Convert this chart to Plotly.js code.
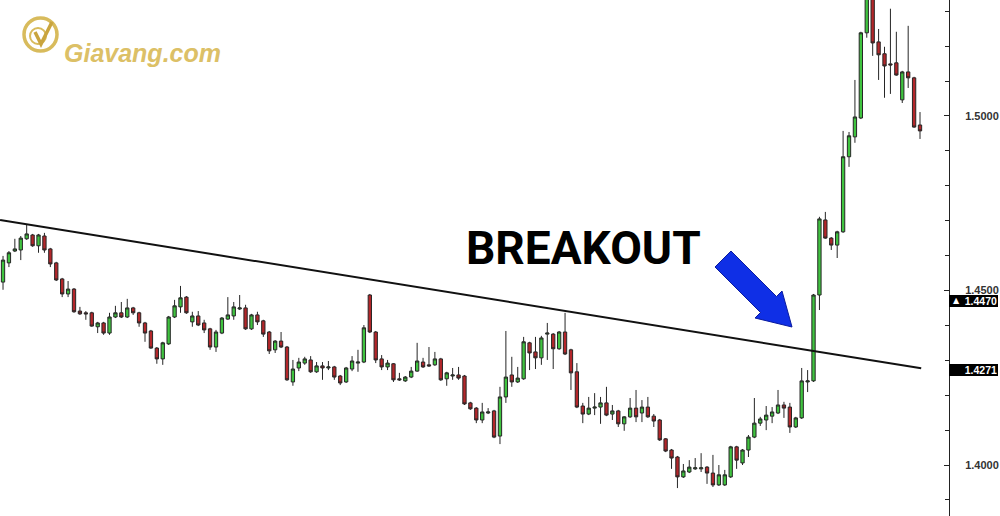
<!DOCTYPE html>
<html><head><meta charset="utf-8">
<script src="https://cdn.plot.ly/plotly-3.0.1.min.js"></script>
<style>html,body{margin:0;padding:0;background:#fff;}#chart{width:1000px;height:516px;}</style>
</head><body><div id="chart"></div>
<script>
const openP = [
1.4524,1.4579,1.4613,1.4616,1.4648,1.4659,1.4628,1.4656,1.4619,1.4579,
1.4533,1.4490,1.4504,1.4441,1.4436,1.4436,1.4396,1.4407,1.4378,1.4424,
1.4436,1.4424,1.4450,1.4436,1.4407,1.4384,1.4335,1.4304,1.4347,1.4424,
1.4453,1.4481,1.4410,1.4427,1.4407,1.4390,1.4338,1.4378,1.4418,1.4427,
1.4447,1.4450,1.4390,1.4430,1.4413,1.4381,1.4330,1.4355,1.4338,1.4238,
1.4278,1.4292,1.4301,1.4267,1.4284,1.4278,1.4281,1.4255,1.4238,1.4275,
1.4292,1.4295,1.4487,1.4381,1.4304,1.4281,1.4290,1.4247,1.4241,1.4252,
1.4269,1.4295,1.4287,1.4287,1.4304,1.4247,1.4255,1.4258,1.4255,1.4178,
1.4163,1.4129,1.4149,1.4155,1.4083,1.4195,1.4258,1.4238,1.4247,1.4350,
1.4324,1.4307,1.4375,1.4375,1.4333,1.4381,1.4330,1.4267,1.4169,1.4146,
1.4163,1.4166,1.4178,1.4146,1.4155,1.4118,1.4138,1.4163,1.4149,1.4166,
1.4140,1.4129,1.4075,1.4043,1.4023,1.3966,1.3980,1.3989,1.3989,1.3994,
1.3977,1.3943,1.3943,1.3966,1.4052,1.4006,1.4043,1.4080,1.4120,1.4129,
1.4140,1.4149,1.4172,1.4166,1.4109,1.4135,1.4238,1.4241,1.4487,1.4702,
1.4650,1.4630,1.4668,1.4883,1.4940,1.4994,1.5238,1.5347,1.5212,1.5178,
1.5149,1.5152,1.5046,1.5126,1.5109,1.4974];
const highP = [
1.4599,1.4613,1.4648,1.4656,1.4688,1.4662,1.4662,1.4665,1.4622,1.4582,
1.4536,1.4527,1.4507,1.4453,1.4441,1.4439,1.4410,1.4410,1.4436,1.4456,
1.4467,1.4476,1.4453,1.4439,1.4410,1.4387,1.4338,1.4353,1.4427,1.4473,
1.4513,1.4484,1.4439,1.4441,1.4416,1.4393,1.4387,1.4424,1.4481,1.4467,
1.4487,1.4459,1.4433,1.4439,1.4416,1.4384,1.4358,1.4381,1.4341,1.4301,
1.4307,1.4310,1.4312,1.4295,1.4295,1.4298,1.4284,1.4258,1.4281,1.4312,
1.4330,1.4401,1.4490,1.4384,1.4315,1.4301,1.4292,1.4264,1.4255,1.4281,
1.4350,1.4307,1.4338,1.4324,1.4307,1.4267,1.4278,1.4281,1.4258,1.4181,
1.4166,1.4178,1.4163,1.4158,1.4224,1.4384,1.4310,1.4281,1.4367,1.4353,
1.4367,1.4370,1.4407,1.4378,1.4384,1.4436,1.4333,1.4292,1.4178,1.4195,
1.4206,1.4195,1.4224,1.4172,1.4158,1.4140,1.4192,1.4215,1.4186,1.4195,
1.4146,1.4132,1.4077,1.4046,1.4026,1.4003,1.4014,1.4020,1.4034,1.3997,
1.4029,1.4000,1.3986,1.4055,1.4055,1.4046,1.4086,1.4192,1.4138,1.4169,
1.4166,1.4215,1.4181,1.4178,1.4138,1.4278,1.4272,1.4490,1.4711,1.4725,
1.4653,1.4671,1.4957,1.4954,1.5103,1.5241,1.5355,1.5355,1.5249,1.5198,
1.5307,1.5241,1.5129,1.5258,1.5112,1.5011];
const lowP = [
1.4502,1.4567,1.4610,1.4587,1.4645,1.4625,1.4608,1.4608,1.4567,1.4527,
1.4481,1.4481,1.4436,1.4430,1.4416,1.4396,1.4378,1.4373,1.4373,1.4421,
1.4421,1.4421,1.4430,1.4396,1.4353,1.4333,1.4290,1.4287,1.4344,1.4421,
1.4436,1.4433,1.4396,1.4398,1.4378,1.4330,1.4324,1.4375,1.4416,1.4416,
1.4444,1.4387,1.4387,1.4401,1.4367,1.4318,1.4321,1.4335,1.4241,1.4227,
1.4269,1.4287,1.4264,1.4264,1.4244,1.4272,1.4244,1.4229,1.4235,1.4269,
1.4267,1.4292,1.4378,1.4292,1.4272,1.4272,1.4238,1.4241,1.4238,1.4249,
1.4267,1.4278,1.4281,1.4284,1.4241,1.4227,1.4244,1.4244,1.4172,1.4158,
1.4120,1.4120,1.4146,1.4077,1.4060,1.4178,1.4224,1.4235,1.4244,1.4272,
1.4275,1.4287,1.4301,1.4275,1.4330,1.4315,1.4215,1.4163,1.4120,1.4143,
1.4143,1.4118,1.4140,1.4129,1.4109,1.4098,1.4135,1.4123,1.4123,1.4135,
1.4109,1.4069,1.4037,1.3989,1.3934,1.3963,1.3977,1.3986,1.3980,1.3946,
1.3937,1.3940,1.3940,1.3963,1.3989,1.4000,1.4023,1.4077,1.4112,1.4100,
1.4120,1.4146,1.4135,1.4092,1.4106,1.4132,1.4209,1.4238,1.4444,1.4648,
1.4616,1.4593,1.4665,1.4854,1.4923,1.4991,1.5224,1.5172,1.5103,1.5052,
1.5063,1.5115,1.5037,1.5080,1.4966,1.4934];
const closeP = [
1.4587,1.4608,1.4619,1.4650,1.4662,1.4628,1.4659,1.4616,1.4576,1.4530,
1.4490,1.4504,1.4439,1.4433,1.4433,1.4398,1.4407,1.4378,1.4424,1.4436,
1.4424,1.4450,1.4436,1.4407,1.4378,1.4335,1.4304,1.4350,1.4424,1.4456,
1.4479,1.4436,1.4427,1.4401,1.4387,1.4338,1.4381,1.4421,1.4430,1.4453,
1.4450,1.4390,1.4430,1.4410,1.4375,1.4327,1.4355,1.4338,1.4244,1.4275,
1.4295,1.4304,1.4267,1.4284,1.4278,1.4281,1.4252,1.4235,1.4278,1.4298,
1.4295,1.4393,1.4381,1.4301,1.4281,1.4292,1.4244,1.4244,1.4252,1.4269,
1.4298,1.4281,1.4284,1.4304,1.4244,1.4264,1.4258,1.4249,1.4175,1.4161,
1.4129,1.4152,1.4152,1.4080,1.4195,1.4252,1.4238,1.4249,1.4353,1.4321,
1.4307,1.4364,1.4378,1.4333,1.4381,1.4318,1.4264,1.4166,1.4146,1.4163,
1.4166,1.4178,1.4143,1.4155,1.4118,1.4138,1.4163,1.4138,1.4166,1.4138,
1.4126,1.4072,1.4040,1.4020,1.3966,1.3983,1.3994,1.3992,1.3992,1.3977,
1.3943,1.3972,1.3972,1.4052,1.4014,1.4043,1.4080,1.4120,1.4132,1.4143,
1.4152,1.4172,1.4163,1.4109,1.4135,1.4241,1.4241,1.4487,1.4705,1.4650,
1.4630,1.4668,1.4883,1.4943,1.4997,1.5238,1.5347,1.5209,1.5175,1.5143,
1.5146,1.5117,1.5126,1.5109,1.4968,1.4957];

const trendX = [-0.5, 155.2];
const trendY = [1.4702, 1.4277];
const tagValues = [1.4470, 1.4271];
const tagLabels = ['1.4470', '1.4271'];
const calloutText = 'BREAKOUT';
const brandText = 'Giavang.com';

const barIndex = openP.map((_, i) => i);

const W = 1000, H = 516, MR = 51;
const PW = W - MR;
const px = x => x / PW;
const py = y => 1 - y / H;
const path = pts => 'M ' + pts.map(p => px(p[0]) + ',' + py(p[1])).join(' L ') + ' Z';

const arrowPts = [[731,251],[776.5,296.5],[782,291],[792,327],[755,318],[760.5,312.5],[715,267]];

const traces = [
  {
    type: 'candlestick', x: barIndex, open: openP, high: highP, low: lowP, close: closeP,
    increasing: {fillcolor: '#3fc33f', line: {color: '#262626', width: 1}},
    decreasing: {fillcolor: '#b3262a', line: {color: '#262626', width: 1}},
    whiskerwidth: 0, hoverinfo: 'skip'
  },
  {
    type: 'scatter', mode: 'lines', x: trendX, y: trendY,
    line: {color: '#111', width: 2}, hoverinfo: 'skip'
  }
];

const annotations = [
  {xref: 'paper', yref: 'paper', x: px(583), y: py(248), text: calloutText, showarrow: false,
   font: {family: 'Roboto', size: 46, weight: 'bold', color: '#000'}},
  {xref: 'paper', yref: 'paper', x: px(62), y: py(37), xanchor: 'left', text: brandText, showarrow: false,
   font: {family: 'Liberation Sans', size: 25, weight: 'bold', style: 'italic', color: '#dcc066'}}
];
tagValues.forEach((v, i) => {
  annotations.push({xref: 'paper', yref: 'y', x: 1, y: v, xanchor: 'left', yanchor: 'middle',
    text: tagLabels[i], showarrow: false, bgcolor: '#000', borderpad: 1, borderwidth: 0,
    width: 47, height: 10, align: 'right',
    font: {family: 'Liberation Sans', size: 10.5, weight: 'bold', color: '#fff'}});
});
annotations.push({xref: 'paper', yref: 'y', x: 1, xshift: 2, y: tagValues[0], xanchor: 'left', yanchor: 'middle',
  text: '▲', showarrow: false, font: {family: 'DejaVu Sans', size: 8, color: '#fff'}});

const gold = '#d8bb5c';
const shapes = [
  {type: 'path', xref: 'paper', yref: 'paper', path: path(arrowPts), fillcolor: '#0f2fe6', line: {color: '#0a1b9e', width: 1}},
  {type: 'circle', xref: 'paper', yref: 'paper', x0: px(24), x1: px(57), y0: py(51), y1: py(18), line: {color: gold, width: 3.5}},
  {type: 'circle', xref: 'paper', yref: 'paper', x0: px(30), x1: px(46), y0: py(44), y1: py(28), line: {color: gold, width: 2}},
  {type: 'path', xref: 'paper', yref: 'paper', path: 'M ' + px(35) + ',' + py(32) + ' L ' + px(41) + ',' + py(44) + ' L ' + px(52) + ',' + py(22),
   line: {color: '#c9a43e', width: 3.5}}
];

const layout = {
  width: W, height: H, margin: {l: 0, r: MR, t: 0, b: 0},
  paper_bgcolor: '#fff', plot_bgcolor: '#fff', showlegend: false, boxgap: 0.2,
  xaxis: {range: [-0.51, 159.9], visible: false, rangeslider: {visible: false}, fixedrange: true},
  yaxis: {side: 'right', range: [1.3854, 1.5332], showgrid: false, zeroline: false,
    showline: true, linecolor: '#222', linewidth: 1, mirror: false,
    ticks: 'inside', ticklen: 5, tickcolor: '#222', tick0: 1.4, dtick: 0.05, tickformat: '.4f',
    ticklabelstandoff: 13,
    tickfont: {family: 'Liberation Sans', size: 11, weight: 'bold', color: '#333'},
    minor: {dtick: 0.01, ticks: 'inside', ticklen: 4, tickcolor: '#222'}, fixedrange: true},
  shapes: shapes, annotations: annotations
};

Plotly.newPlot('chart', traces, layout, {displayModeBar: false, staticPlot: true});
</script></body></html>
